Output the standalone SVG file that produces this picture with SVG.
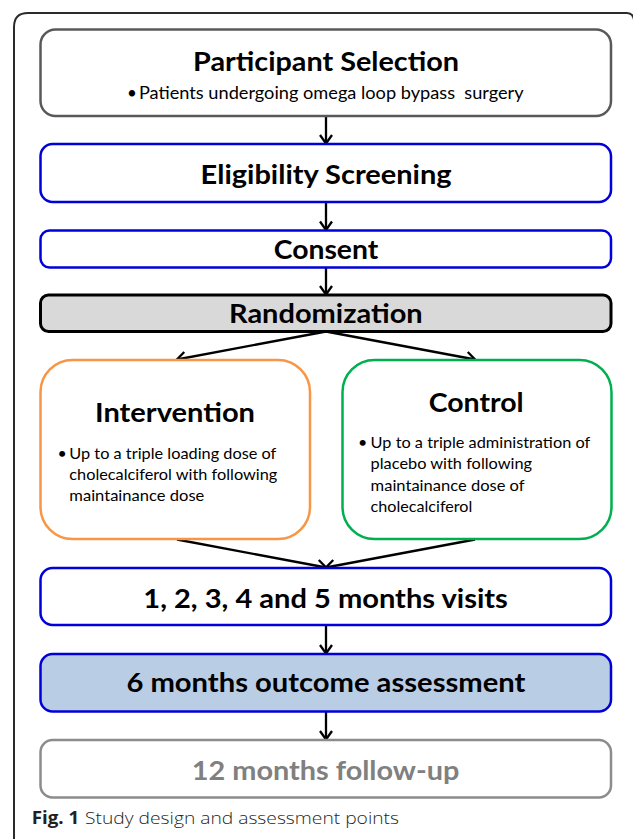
<svg xmlns="http://www.w3.org/2000/svg" width="633" height="839" viewBox="0 0 633 839">
  <defs>
    <style>
      .box { fill: #ffffff; stroke-width: 2.5; }
      .gray { stroke: #595959; }
      .blue { stroke: #0000d8; }
      .title { font-family: Lato, "Open Sans", "Liberation Sans", sans-serif; font-weight: 700; font-size: 27px; fill: #000000; }
      .body { font-family: Lato, "Open Sans", "Liberation Sans", sans-serif; font-weight: 400; font-size: 16px; fill: #000000; }
      .sub { font-family: Lato, "Open Sans", "Liberation Sans", sans-serif; font-weight: 400; font-size: 17px; fill: #000000; white-space: pre; }
      .cap { font-family: "Open Sans", "Liberation Sans", sans-serif; font-size: 17px; fill: #231f20; }
      .conn line { stroke: #000000; stroke-width: 2.3; marker-end: url(#arrow); }
    </style>
    <marker id="arrow" markerUnits="userSpaceOnUse" viewBox="-11 -8 13 16" markerWidth="13" markerHeight="16" refX="0" refY="0" orient="auto">
      <path d="M-8.5,-6 L0,0 L-8.5,6" fill="none" stroke="#000000" stroke-width="2.3" stroke-linejoin="miter"/>
    </marker>
  </defs>

  <rect width="633" height="839" fill="#ffffff"/>

  <g id="frame">
    <path d="M14,839 V27 Q14,13 28,13 H627 Q633,13 634,20" fill="none" stroke="#2b2b2b" stroke-width="2"/>
  </g>

  <g id="connectors" class="conn">
    <line x1="326" y1="116" x2="326" y2="143.5"/>
    <line x1="326" y1="202" x2="326" y2="230"/>
    <line x1="326" y1="267.5" x2="326" y2="294.5"/>
    <line x1="326" y1="331.5" x2="177" y2="359.5"/>
    <line x1="326" y1="331.5" x2="475" y2="359.5"/>
    <line x1="177" y1="539.5" x2="326" y2="567.5"/>
    <line x1="475" y1="539.5" x2="326" y2="567.5"/>
    <line x1="326" y1="625.5" x2="326" y2="653.5"/>
    <line x1="326" y1="711.5" x2="326" y2="739.5"/>
  </g>

  <g id="participant-selection">
    <rect class="box gray" x="40.5" y="29.5" width="570.5" height="86.5" rx="15"/>
    <text class="title" x="193" y="71" textLength="266" lengthAdjust="spacingAndGlyphs">Participant Selection</text>
    <text class="sub" x="127" y="98.5">•</text>
    <text class="sub" x="139" y="98.5" textLength="384.6" lengthAdjust="spacingAndGlyphs">Patients undergoing omega loop bypass  surgery</text>
  </g>

  <g id="eligibility-screening">
    <rect class="box blue" x="40.5" y="144" width="570.5" height="58" rx="12"/>
    <text class="title" x="200.6" y="183.5" textLength="251" lengthAdjust="spacingAndGlyphs">Eligibility Screening</text>
  </g>

  <g id="consent">
    <rect class="box blue" x="40.5" y="230.5" width="570.5" height="37" rx="9"/>
    <text class="title" x="273.7" y="259.3" textLength="104.6" lengthAdjust="spacingAndGlyphs">Consent</text>
  </g>

  <g id="randomization">
    <rect x="40.5" y="295" width="570.5" height="36.5" rx="8" fill="#d9d9d9" stroke="#000000" stroke-width="3"/>
    <text class="title" x="229" y="323.3" textLength="193.7" lengthAdjust="spacingAndGlyphs">Randomization</text>
  </g>

  <g id="intervention">
    <rect class="box" x="40.5" y="360" width="269.5" height="179" rx="32" stroke="#f79646"/>
    <text class="title" x="95" y="421.7" textLength="160" lengthAdjust="spacingAndGlyphs">Intervention</text>
    <text class="body" x="57.5" y="459.3">•</text>
    <text class="body" x="69.3" y="459.3" textLength="207" lengthAdjust="spacingAndGlyphs">Up to a triple loading dose of</text>
    <text class="body" x="69.3" y="480" textLength="208" lengthAdjust="spacingAndGlyphs">cholecalciferol with following</text>
    <text class="body" x="69.3" y="500.7" textLength="135" lengthAdjust="spacingAndGlyphs">maintainance dose</text>
  </g>

  <g id="control">
    <rect class="box" x="342.5" y="360" width="269" height="179" rx="32" stroke="#00b050"/>
    <text class="title" x="428.7" y="411.7" textLength="95" lengthAdjust="spacingAndGlyphs">Control</text>
    <text class="body" x="358" y="448.3">•</text>
    <text class="body" x="370.6" y="448.3" textLength="219.6" lengthAdjust="spacingAndGlyphs">Up to a triple administration of</text>
    <text class="body" x="370.6" y="469.3" textLength="161.5" lengthAdjust="spacingAndGlyphs">placebo with following</text>
    <text class="body" x="370.6" y="490.7" textLength="154" lengthAdjust="spacingAndGlyphs">maintainance dose of</text>
    <text class="body" x="370.6" y="511.7" textLength="101.7" lengthAdjust="spacingAndGlyphs">cholecalciferol</text>
  </g>

  <g id="monthly-visits">
    <rect class="box blue" x="40.5" y="568" width="570.5" height="57" rx="12"/>
    <text class="title" x="143.3" y="607.5" textLength="364.6" lengthAdjust="spacingAndGlyphs">1, 2, 3, 4 and 5 months visits</text>
  </g>

  <g id="outcome-assessment">
    <rect x="40.5" y="654" width="570.5" height="57.5" rx="12" fill="#b9cde5" stroke="#0000d8" stroke-width="2.5"/>
    <text class="title" x="126.4" y="691.7" textLength="399" lengthAdjust="spacingAndGlyphs">6 months outcome assessment</text>
  </g>

  <g id="follow-up">
    <rect class="box" x="40.5" y="740" width="570.5" height="57.5" rx="12" stroke="#8c8c8c"/>
    <text class="title" x="191.8" y="780" textLength="267.6" lengthAdjust="spacingAndGlyphs" style="fill:#808080">12 months follow-up</text>
  </g>

  <g id="caption">
    <text class="cap" x="31.7" y="824" font-weight="700" textLength="47.6" lengthAdjust="spacingAndGlyphs">Fig. 1</text>
    <text class="cap" x="85" y="824" font-weight="300" textLength="314" lengthAdjust="spacingAndGlyphs">Study design and assessment points</text>
  </g>
</svg>
